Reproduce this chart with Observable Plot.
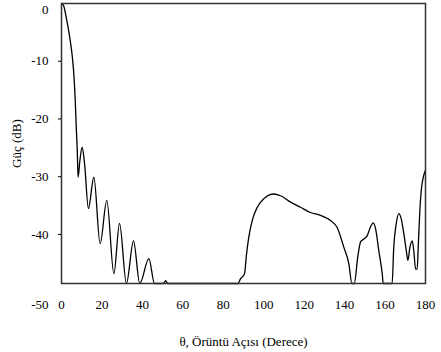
<!DOCTYPE html>
<html>
<head>
<meta charset="utf-8">
<script src="https://cdn.jsdelivr.net/npm/d3@7"></script>
<script src="https://cdn.jsdelivr.net/npm/@observablehq/plot@0.6"></script>
<style>
  html, body { margin: 0; padding: 0; background: #fff; }
</style>
</head>
<body>
<div id="chart"></div>
<script>
// Angle (degrees) and power (dB)
const theta = [0, 1.0, 2.6, 4.3, 5.4, 6.3, 6.8, 7.3, 7.8, 8.2, 9.1, 10.2, 11.4, 13.3, 16.0, 19.1, 22.4, 25.9, 28.7, 32.1, 35.6, 38.7, 43.2, 46.0, 50.5, 51.5, 52.5,
  87.2, 88.5, 90.5, 91.5, 92.6, 94.3, 96.8, 100.1, 105.0, 108.3, 113.3, 118.2, 123.1, 128.1, 133.0, 136.3, 139.6, 142.1, 143.6,
  144.8, 146.5, 147.9, 149.5, 151.2, 152.8, 154.2, 155.3, 156.9, 158.6, 159.1,
  163.5, 164.3, 165.5, 166.8, 168.0, 169.3, 170.5, 171.3, 172.3, 173.4, 174.2, 175.1, 175.9, 176.4, 177.2, 177.9, 178.9, 179.8];
const gain = [0, -0.35, -2.9, -6.4, -9.4, -13.3, -16.8, -21.5, -25.5, -30.1, -27.2, -24.9, -27.7, -35.5, -30.1, -41.6, -34.1, -46.8, -38.1, -48.5, -41.1, -48.5, -44.2, -48.5, -48.5, -48.0, -48.5,
  -48.5, -47.7, -46.8, -43.4, -40.5, -37.6, -35.3, -33.8, -33.0, -33.3, -34.4, -35.3, -36.2, -36.7, -37.6, -38.8, -42.2, -45.1, -48.5,
  -48.5, -43.9, -41.3, -40.8, -40.2, -38.7, -38.0, -39.0, -42.8, -46.8, -48.5,
  -48.5, -42.2, -38.2, -36.4, -37.3, -39.9, -42.8, -44.5, -42.2, -41.1, -42.8, -46.0, -46.0, -42.2, -35.9, -32.4, -30.1, -29.0];

const xTicks = [0, 20, 40, 60, 80, 100, 120, 140, 160, 180];
const yTopTick = [0];
const yTicks = [-10, -20, -30, -40];
const yExtraTick = [-50];
const yFloor = -48.5;

const data = theta.map((t, i) => ({theta: t, gain: gain[i]}));
const fmt = d => String(d);

const chart = Plot.plot({
  width: 441,
  height: 352,
  marginLeft: 61,
  marginRight: 16,
  marginTop: 3,
  marginBottom: 69,
  style: {fontFamily: "'Liberation Serif', 'Times New Roman', serif", fontSize: "13px", color: "#000", background: "#fff"},
  x: {domain: [0, 180]},
  y: {domain: [yFloor, 0]},
  marks: [
    Plot.line(data, {x: "theta", y: "gain", stroke: "#000", strokeWidth: 1.3, curve: "monotone-x"}),
    Plot.frame({stroke: "#333", strokeWidth: 1.5}),
    Plot.axisX({ticks: xTicks, tickFormat: fmt, tickSize: 0, tickPadding: 16, label: "θ, Örüntü Açısı (Derece)", labelAnchor: "center", labelArrow: "none", labelOffset: 62}),
    Plot.axisY({ticks: yTicks, tickFormat: fmt, tickSize: 3, tickPadding: 10, label: "Güç (dB)", labelAnchor: "center", labelArrow: "none", labelOffset: 50}),
    Plot.axisY({ticks: yTopTick, tickFormat: fmt, tickSize: 0, tickPadding: 13, dy: 6, label: null}),
    Plot.axisY({ticks: yExtraTick, tickFormat: fmt, tickSize: 0, tickPadding: 13, dy: 13, label: null})
  ]
});
document.getElementById("chart").appendChild(chart);
</script>
</body>
</html>
